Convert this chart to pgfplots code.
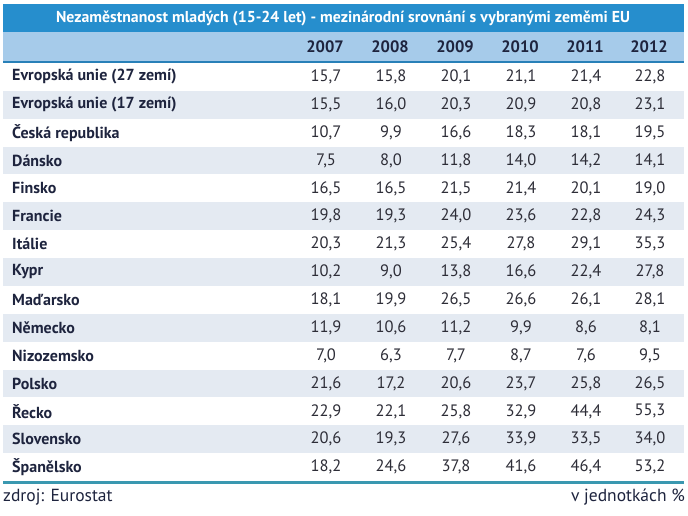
\documentclass[border=0pt]{standalone}
\usepackage{pgfplots}
\pgfplotsset{compat=1.18}
\usepackage{pgfplotstable}
\usepackage{fontspec}
\setmainfont{PT Sans}
\definecolor{titleblue}{RGB}{38,142,205}
\definecolor{hdrblue}{RGB}{166,203,234}
\definecolor{hdrline}{RGB}{40,128,184}
\definecolor{stripe}{RGB}{228,234,242}
\definecolor{botline}{RGB}{58,152,176}
\definecolor{navy}{RGB}{30,36,62}
\definecolor{valcol}{RGB}{45,45,55}
\pgfplotstableread{
name a b c d e f
{Evropská unie (27 zemí)} 15.7 15.8 20.1 21.1 21.4 22.8
{Evropská unie (17 zemí)} 15.5 16.0 20.3 20.9 20.8 23.1
{Česká republika} 10.7 9.9 16.6 18.3 18.1 19.5
{Dánsko} 7.5 8.0 11.8 14.0 14.2 14.1
{Finsko} 16.5 16.5 21.5 21.4 20.1 19.0
{Francie} 19.8 19.3 24.0 23.6 22.8 24.3
{Itálie} 20.3 21.3 25.4 27.8 29.1 35.3
{Kypr} 10.2 9.0 13.8 16.6 22.4 27.8
{Maďarsko} 18.1 19.9 26.5 26.6 26.1 28.1
{Německo} 11.9 10.6 11.2 9.9 8.6 8.1
{Nizozemsko} 7.0 6.3 7.7 8.7 7.6 9.5
{Polsko} 21.6 17.2 20.6 23.7 25.8 26.5
{Řecko} 22.9 22.1 25.8 32.9 44.4 55.3
{Slovensko} 20.6 19.3 27.6 33.9 33.5 34.0
{Španělsko} 18.2 24.6 37.8 41.6 46.4 53.2
}\data
\newcommand\fsz{\fontsize{16}{19}\selectfont}
\newcommand\tsz{\fontsize{15.8}{19}\selectfont}
\newcommand\hsz{\fontsize{16.5}{19}\selectfont}
\newcommand\vsz{\fontsize{16.5}{19}\selectfont}
\newcommand\ftsz{\fontsize{17.5}{20}\selectfont}
\pgfplotsset{
  textplot/.style={only marks, mark=*, mark size=0pt,
    mark options={draw=none,fill=none}, scatter,
    point meta=explicit symbolic,
    scatter/@post marker code/.code={}},
  valplot/.style={textplot,
    scatter/@pre marker code/.code={\node[font=\vsz,text=valcol,inner sep=0pt]{\pgfmathprintnumber{\pgfplotspointmeta}};}},
}
\begin{document}
\begin{tikzpicture}
\begin{axis}[scale only axis, width=688pt, height=516pt,
  xmin=0, xmax=688, ymin=0, ymax=516, y dir=reverse,
  hide axis, clip=false,
  /pgf/number format/.cd, fixed, fixed zerofill, precision=1, use comma, assume math mode=true]
\fill[white] (axis cs:0,0) rectangle (axis cs:688,516);
\fill[titleblue] (axis cs:3,4) rectangle (axis cs:684,32);
\fill[hdrblue] (axis cs:3,32) rectangle (axis cs:684,61);
\fill[hdrline] (axis cs:3,61) rectangle (axis cs:684,63);
\pgfplotsinvokeforeach{1,3,5,7,9,11,13}{
  \fill[stripe] (axis cs:3,{63+#1*27.87}) rectangle (axis cs:684,{63+(#1+1)*27.87});
}
\fill[botline] (axis cs:3,481) rectangle (axis cs:684,484);
\node[font=\tsz\bfseries,text=white] at (axis cs:343,18) {Nezaměstnanost mladých (15-24 let) - mezinárodní srovnání s vybranými zeměmi EU};
\addplot[textplot, scatter/@pre marker code/.code={\node[font=\hsz\bfseries,text=navy,inner sep=0pt]{\pgfplotspointmeta};}]
  coordinates {(325,47)[2007] (390,47)[2008] (455,47)[2009] (520,47)[2010] (585,47)[2011] (649,47)[2012]};
\addplot[textplot, scatter/@pre marker code/.code={\node[font=\fsz\bfseries,text=navy,anchor=west,inner sep=0pt]{\pgfplotspointmeta};}]
  table[x expr=12, y expr={63+(\coordindex+0.5)*27.87}, meta=name]{\data};
\addplot[valplot] table[x expr=326, y expr={63+(\coordindex+0.5)*27.87}, meta=a]{\data};
\addplot[valplot] table[x expr=391, y expr={63+(\coordindex+0.5)*27.87}, meta=b]{\data};
\addplot[valplot] table[x expr=456, y expr={63+(\coordindex+0.5)*27.87}, meta=c]{\data};
\addplot[valplot] table[x expr=521, y expr={63+(\coordindex+0.5)*27.87}, meta=d]{\data};
\addplot[valplot] table[x expr=586, y expr={63+(\coordindex+0.5)*27.87}, meta=e]{\data};
\addplot[valplot] table[x expr=650, y expr={63+(\coordindex+0.5)*27.87}, meta=f]{\data};
\node[font=\ftsz,text=navy,anchor=west,inner sep=0pt] at (axis cs:3,497) {zdroj: Eurostat};
\node[font=\ftsz,text=navy,anchor=east,inner sep=0pt] at (axis cs:685,497) {v jednotkách \%};
\end{axis}
\end{tikzpicture}
\end{document}
